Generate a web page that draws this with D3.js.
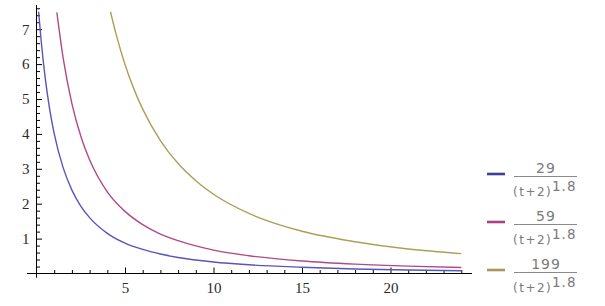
<!DOCTYPE html>
<html>
<head>
<meta charset="utf-8">
<script src="https://cdn.jsdelivr.net/npm/d3@7"></script>
<style>
    body { margin: 0; background: #fff; }
    svg { display: block; }
</style>
</head>
<body>
<div id="chart"></div>
<script>
// values, t -> y for each curve
const blueT = [0.12, 0.25, 0.5, 0.75, 1, 1.5, 2, 2.5, 3, 4, 5, 6, 7, 8, 10, 12, 15, 18, 21, 24];
const blueY = [7.50, 6.74, 5.57, 4.69, 4.01, 3.04, 2.39, 1.93, 1.60, 1.15, 0.87, 0.69, 0.56, 0.46, 0.33, 0.25, 0.18, 0.13, 0.10, 0.08];

const purpleT = [1.15, 1.5, 2, 2.5, 3, 4, 5, 6, 7, 8, 10, 12, 15, 18, 21, 24];
const purpleY = [7.48, 6.19, 4.87, 3.94, 3.26, 2.34, 1.78, 1.40, 1.13, 0.94, 0.67, 0.51, 0.36, 0.27, 0.21, 0.17];

const goldT = [4.18, 4.5, 5, 5.5, 6, 7, 8, 9, 10, 12, 15, 18, 21, 24];
const goldY = [7.50, 6.85, 5.99, 5.29, 4.71, 3.81, 3.15, 2.66, 2.27, 1.72, 1.21, 0.91, 0.70, 0.57];

const legendNums = ['29', '59', '199'];
const legendDen = '(t+2)';
const legendExp = '1.8';

const xMajor = [5, 10, 15, 20];
const yMajor = [1, 2, 3, 4, 5, 6, 7];

const lineColors = ['#5656bd', '#b04a86', '#ae9e58'];
const swatchColors = ['#3d3d9c', '#a8447c', '#a8985a'];

const width = 605, height = 306;

const svg = d3.select('#chart')
    .append('svg')
    .attr('width', width)
    .attr('height', height);

const x = d3.scaleLinear().domain([0, 24]).range([36.5, 461.3]);
const y = d3.scaleLinear().domain([0, 7]).range([273.5, 29.2]);

const series = [
    blueT.map((t, i) => [t, blueY[i]]),
    purpleT.map((t, i) => [t, purpleY[i]]),
    goldT.map((t, i) => [t, goldY[i]])
];

// axes lines, padded past the data range like the original
svg.append('line')
    .attr('x1', x(-0.54)).attr('x2', x(24.6))
    .attr('y1', y(0)).attr('y2', y(0))
    .attr('stroke', '#000').attr('stroke-width', 1);
svg.append('line')
    .attr('x1', x(0)).attr('x2', x(0))
    .attr('y1', y(7.69)).attr('y2', y(-0.12))
    .attr('stroke', '#000').attr('stroke-width', 1);

// ticks point inward
const xMinor = d3.range(1, 25).filter(v => v % 5 !== 0);
const xAxisMajor = d3.axisBottom(x).tickValues(xMajor).tickSize(-6).tickPadding(9).tickFormat(d3.format('d'));
const xAxisMinor = d3.axisBottom(x).tickValues(xMinor).tickSize(-3.5).tickFormat('');

const yMinor = d3.range(0.2, 7.7, 0.2).filter(v => Math.abs(v - Math.round(v)) > 0.01);
const yAxisMajor = d3.axisLeft(y).tickValues(yMajor).tickSize(-5.5).tickPadding(7).tickFormat(d3.format('d'));
const yAxisMinor = d3.axisLeft(y).tickValues(yMinor).tickSize(-3.5).tickFormat('');

[[xAxisMinor, 'x'], [xAxisMajor, 'x'], [yAxisMinor, 'y'], [yAxisMajor, 'y']].forEach(([ax, k]) => {
    const g = svg.append('g')
        .attr('transform', k === 'x' ? `translate(0,${y(0)})` : `translate(${x(0)},0)`)
        .call(ax);
    g.select('.domain').remove();
    g.selectAll('.tick line').attr('stroke', '#000');
    g.selectAll('.tick text')
        .attr('fill', '#2a2a2a')
        .style('font-family', '"Liberation Serif", "DejaVu Serif", serif')
        .style('font-size', '15px');
});

// curves
const line = d3.line()
    .x(d => x(d[0]))
    .y(d => y(d[1]))
    .curve(d3.curveMonotoneX);

svg.selectAll('path.curve')
    .data(series)
    .enter()
    .append('path')
    .attr('class', 'curve')
    .attr('d', line)
    .attr('fill', 'none')
    .attr('stroke', (d, i) => lineColors[i])
    .attr('stroke-width', 1.4);

// legend
const legend = svg.selectAll('g.legend')
    .data(legendNums)
    .enter()
    .append('g')
    .attr('class', 'legend')
    .attr('transform', (d, i) => `translate(0, ${i * 48})`)
    .style('font-family', '"DejaVu Sans", sans-serif')
    .attr('fill', '#7a7a7a');

legend.append('line')
    .attr('x1', 487).attr('x2', 505)
    .attr('y1', 174).attr('y2', 174)
    .attr('stroke', (d, i) => swatchColors[i])
    .attr('stroke-width', 2.6);

legend.append('text')
    .attr('x', 546)
    .attr('y', 172.7)
    .attr('text-anchor', 'middle')
    .style('font-size', '14px')
    .style('letter-spacing', '1px')
    .text(d => d);

legend.append('line')
    .attr('x1', 514).attr('x2', 577)
    .attr('y1', 176.5).attr('y2', 176.5)
    .attr('stroke', '#8a8a8a')
    .attr('stroke-width', 1);

legend.append('text')
    .attr('x', 513)
    .attr('y', 196)
    .style('font-size', '12px')
    .style('letter-spacing', '1.5px')
    .text(legendDen);

legend.append('text')
    .attr('x', 552)
    .attr('y', 190.5)
    .style('font-size', '13.5px')
    .style('letter-spacing', '1px')
    .text(legendExp);
</script>
</body>
</html>
